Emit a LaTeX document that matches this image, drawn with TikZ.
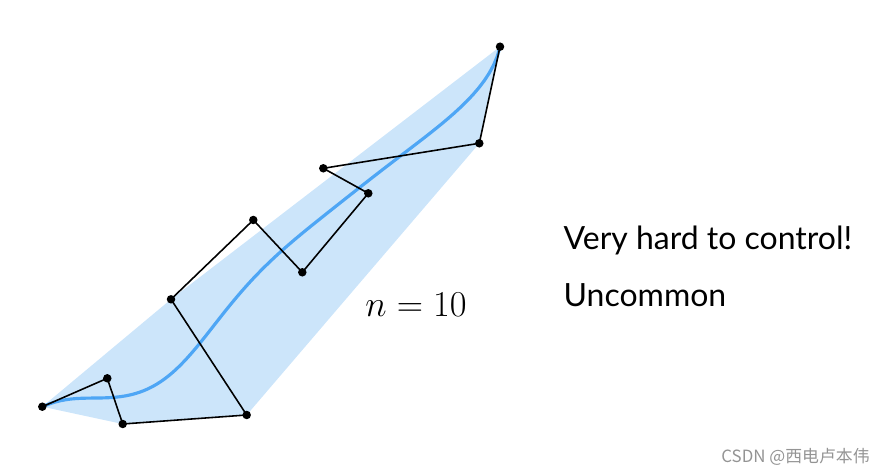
\documentclass[tikz,border=0pt]{standalone}
\usepackage{fontspec}
\usepgflibrary{fpu}
\newfontfamily\labelfont{Lato}
\newfontfamily\markfont{Noto Sans CJK SC}
\definecolor{hullblue}{RGB}{204,229,250}
\definecolor{curveblue}{RGB}{78,166,245}
\tikzset{
  ctrl/.style={black, line width=0.9pt, line join=round},
  dot/.style={circle, fill=black, inner sep=0pt, minimum size=1.7mm},
  bezcurve/.style={curveblue, line width=1.8pt, line cap=round, line join=round},
  sidetext/.style={anchor=base west, font=\labelfont\fontsize{18.2}{20}\selectfont, inner sep=0pt}
}
\begin{document}
\begin{tikzpicture}[x=0.02cm, y=-0.02cm,
  declare function={
    bern(\c,\i,\t)=\c*\t^\i*(1-\t)^(10-\i);
    bx(\t)=bern(1,0,\t)*42.3+bern(10,1,\t)*107.3+bern(45,2,\t)*122.7+bern(120,3,\t)*246.7
      +bern(210,4,\t)*171+bern(252,5,\t)*253.3+bern(210,6,\t)*302.3+bern(120,7,\t)*368.3
      +bern(45,8,\t)*323.3+bern(10,9,\t)*479.3+bern(1,10,\t)*500;
    by(\t)=bern(1,0,\t)*406.7+bern(10,1,\t)*378.3+bern(45,2,\t)*424+bern(120,3,\t)*415
      +bern(210,4,\t)*299.3+bern(252,5,\t)*220+bern(210,6,\t)*272.3+bern(120,7,\t)*193.3
      +bern(45,8,\t)*168.3+bern(10,9,\t)*143.3+bern(1,10,\t)*46.7;
  }]
  \useasboundingbox (0,0) rectangle (885,475);
  % control points
  \coordinate (p0) at (42.3,406.7);
  \coordinate (p1) at (107.3,378.3);
  \coordinate (p2) at (122.7,424);
  \coordinate (p3) at (246.7,415);
  \coordinate (p4) at (171,299.3);
  \coordinate (p5) at (253.3,220);
  \coordinate (p6) at (302.3,272.3);
  \coordinate (p7) at (368.3,193.3);
  \coordinate (p8) at (323.3,168.3);
  \coordinate (p9) at (479.3,143.3);
  \coordinate (p10) at (500,46.7);
  % convex hull
  \fill[hullblue] (p0) -- (p2) -- (p3) -- (p9) -- (p10) -- (p4) -- cycle;
  % points on the Bezier curve of degree 10
  \foreach \k in {1,...,99} {
    \pgfkeys{/pgf/fpu=true, /pgf/fpu/output format=fixed}
    \pgfmathsetmacro\cx{bx(\k/100)}
    \pgfmathsetmacro\cy{by(\k/100)}
    \pgfkeys{/pgf/fpu=false}
    \coordinate (c\k) at (\cx,\cy);
  }
  \draw[bezcurve] (p0) \foreach \k in {1,...,99} { -- (c\k) } -- (p10);
  % control polygon
  \draw[ctrl] (p0) \foreach \i in {1,...,10} { -- (p\i) };
  \foreach \i in {0,...,10}
    \node[dot] (d\i) at (p\i) {};
  % labels
  \node[anchor=base west, inner sep=0pt, font=\fontsize{19.4}{22}\selectfont] (deg) at (365,316.7) {$n=10$};
  \node[sidetext] (hard) at (563.3,250) {Very hard to control!};
  \node[sidetext] (rare) at (563.3,306.7) {Uncommon};
  \node[anchor=base east, inner sep=0pt, text=black!42, font=\markfont\fontsize{9.6}{11}\selectfont] (mark) at (870,463) {CSDN @西电卢本伟};
\end{tikzpicture}
\end{document}
